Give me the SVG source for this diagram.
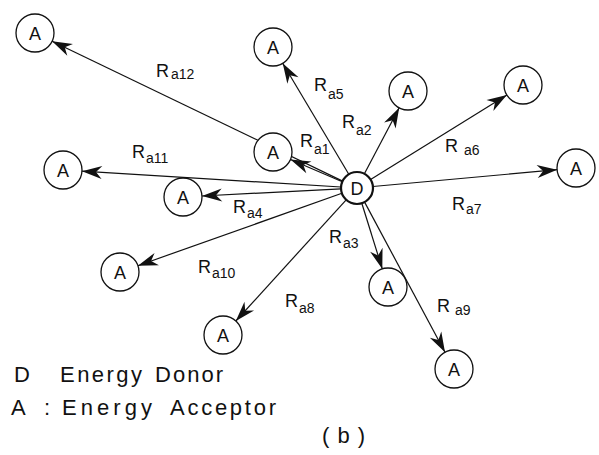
<svg xmlns="http://www.w3.org/2000/svg" width="599" height="455" viewBox="0 0 599 455">
<style>
.node{fill:#fff;stroke:#111;stroke-width:1.3}
.donor{fill:#fff;stroke:#111;stroke-width:2.2}
.nt{font-family:"Liberation Sans",Arial,sans-serif;font-size:18px;fill:#111;text-anchor:middle}
.conn line{stroke:#111;stroke-width:1.2;marker-end:url(#ah)}
.lbl{font-family:"Liberation Sans",Arial,sans-serif;font-size:18px;fill:#111}
.sub{font-size:14px}
.leg{font-family:"Liberation Sans",Arial,sans-serif;font-size:22px;fill:#111}
</style>
<defs>
<marker id="ah" markerUnits="userSpaceOnUse" markerWidth="22" markerHeight="16" viewBox="-22 -8 22 16" refX="0" refY="0" orient="auto">
<path d="M0,0 L-20,-6.5 L-14,0 L-20,6.5 Z" fill="#111"/>
</marker>
</defs>
<g id="connectors" class="conn">
<line x1="342.6" y1="181.1" x2="52.1" y2="41.2"/>
<line x1="348.8" y1="174.3" x2="282.7" y2="63.3"/>
<line x1="364.4" y1="173.8" x2="399.2" y2="107.8"/>
<line x1="370.6" y1="179.6" x2="506.9" y2="95"/>
<line x1="342.3" y1="181.7" x2="290.5" y2="159.5"/>
<line x1="372.9" y1="186.5" x2="557.1" y2="169.7"/>
<line x1="341" y1="187" x2="82" y2="171.2"/>
<line x1="341" y1="188.8" x2="202" y2="196"/>
<line x1="341.9" y1="193.3" x2="137.9" y2="265.7"/>
<line x1="361.8" y1="203.3" x2="382.3" y2="268.9"/>
<line x1="346.2" y1="199.8" x2="235.8" y2="321"/>
<line x1="364.6" y1="202.1" x2="445" y2="352.3"/>
</g>
<g id="D"><circle class="donor" cx="357" cy="188" r="16"/><text class="nt" x="357" y="194.5">D</text></g>
<g id="A12"><circle class="node" cx="35" cy="33" r="19"/><text class="nt" x="35" y="39.5">A</text></g>
<g id="A5"><circle class="node" cx="273" cy="47" r="19"/><text class="nt" x="273" y="53.5">A</text></g>
<g id="A2"><circle class="node" cx="408" cy="91" r="19"/><text class="nt" x="408" y="97.5">A</text></g>
<g id="A6"><circle class="node" cx="523" cy="85" r="19"/><text class="nt" x="523" y="91.5">A</text></g>
<g id="A1"><circle class="node" cx="273" cy="152" r="19"/><text class="nt" x="273" y="158.5">A</text></g>
<g id="A7"><circle class="node" cx="576" cy="168" r="19"/><text class="nt" x="576" y="174.5">A</text></g>
<g id="A11"><circle class="node" cx="63" cy="170" r="19"/><text class="nt" x="63" y="176.5">A</text></g>
<g id="A4"><circle class="node" cx="183" cy="197" r="19"/><text class="nt" x="183" y="203.5">A</text></g>
<g id="A10"><circle class="node" cx="120" cy="272" r="19"/><text class="nt" x="120" y="278.5">A</text></g>
<g id="A3"><circle class="node" cx="388" cy="287" r="19"/><text class="nt" x="388" y="293.5">A</text></g>
<g id="A8"><circle class="node" cx="223" cy="335" r="19"/><text class="nt" x="223" y="341.5">A</text></g>
<g id="A9"><circle class="node" cx="454" cy="369" r="19"/><text class="nt" x="454" y="375.5">A</text></g>
<g id="labels">
<text class="lbl" x="156" y="77">R<tspan class="sub" x="171" y="79">a12</tspan></text>
<text class="lbl" x="314" y="91">R<tspan class="sub" x="328" y="99">a5</tspan></text>
<text class="lbl" x="342" y="128">R<tspan class="sub" x="356" y="135">a2</tspan></text>
<text class="lbl" x="300" y="147">R<tspan class="sub" x="314" y="154">a1</tspan></text>
<text class="lbl" x="445" y="152">R<tspan class="sub" x="464" y="155">a6</tspan></text>
<text class="lbl" x="132" y="158">R<tspan class="sub" x="146" y="163">a11</tspan></text>
<text class="lbl" x="233" y="213">R<tspan class="sub" x="247" y="218">a4</tspan></text>
<text class="lbl" x="452" y="210">R<tspan class="sub" x="466" y="214">a7</tspan></text>
<text class="lbl" x="329" y="243">R<tspan class="sub" x="343" y="248">a3</tspan></text>
<text class="lbl" x="198" y="273">R<tspan class="sub" x="212" y="278">a10</tspan></text>
<text class="lbl" x="285" y="307">R<tspan class="sub" x="299" y="313">a8</tspan></text>
<text class="lbl" x="437" y="312">R<tspan class="sub" x="455" y="315">a9</tspan></text>
</g>
<g id="legend">
<text class="leg" x="14" y="382">D</text>
<text class="leg" x="60" y="382" textLength="82">Energy</text>
<text class="leg" x="155" y="382" textLength="68">Donor</text>
<text class="leg" x="11" y="415">A</text>
<text class="leg" x="44" y="415">:</text>
<text class="leg" x="62" y="415" textLength="90">Energy</text>
<text class="leg" x="170" y="415" textLength="106">Acceptor</text>
<text class="leg" x="322" y="443" textLength="43">(b)</text>
</g>
</svg>
